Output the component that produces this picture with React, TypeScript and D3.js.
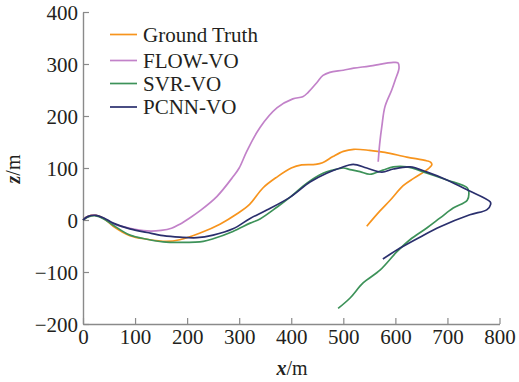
import React, { useRef, useEffect } from "react";
import { select, scaleLinear, line, axisLeft, axisBottom, curveCatmullRom } from "d3";

// trajectories, [x (m), z (m)]
const groundTruth: [number, number][] = [
  [0, 0], [10, 7], [25, 9], [40, 3], [58, -12], [90, -30], [123, -37], [160, -41],
  [186, -38], [225, -25], [263, -8], [296, 12], [320, 30], [346, 62], [373, 83],
  [400, 100], [420, 106], [446, 107], [460, 110], [480, 122], [500, 132], [520, 136],
  [550, 134], [580, 130], [622, 121], [660, 114], [668, 111], [670, 106], [665, 100],
  [657, 94], [635, 80], [615, 66], [590, 38], [570, 17], [545, -12],
];

const flowVO: [number, number][] = [
  [0, 0], [10, 7], [25, 9], [40, 3], [60, -8], [90, -16], [123, -21], [150, -20],
  [170, -16], [186, -8], [205, 4], [225, 18], [257, 45], [288, 83], [300, 100],
  [315, 133], [340, 178], [373, 216], [403, 233], [422, 237], [432, 245], [449, 264],
  [461, 278], [474, 284], [500, 288], [520, 292], [550, 296], [596, 303], [605, 302],
  [607, 292], [600, 270], [593, 250], [580, 218], [574, 180], [570, 148], [567, 112],
];

const svrVO: [number, number][] = [
  [0, 0], [10, 6], [25, 8], [40, 2], [58, -10], [90, -29], [123, -37], [154, -42],
  [190, -43], [231, -41], [250, -36], [288, -22], [321, -6], [340, 2], [373, 25],
  [398, 44], [430, 71], [461, 90], [480, 96], [500, 100], [513, 97], [532, 93],
  [551, 88], [576, 96], [596, 102], [622, 102], [661, 90], [699, 77], [738, 62],
  [741, 54], [738, 38], [711, 23], [686, 4], [661, -15], [628, -38], [603, -61],
  [571, -96], [538, -121], [513, -150], [490, -170],
];

const pcnnVO: [number, number][] = [
  [0, 0], [10, 7], [25, 9], [40, 4], [58, -6], [90, -17], [123, -24], [154, -30],
  [186, -33], [219, -34], [250, -29], [288, -17], [321, 3], [353, 19], [398, 44],
  [436, 73], [468, 90], [494, 100], [519, 107], [545, 100], [574, 92], [596, 98],
  [628, 102], [661, 92], [699, 77], [738, 58], [782, 35], [783, 30], [776, 20],
  [743, 10], [686, -13], [647, -33], [609, -54], [576, -75],
];

const seriesNames = ["Ground Truth", "FLOW-VO", "SVR-VO", "PCNN-VO"];
const seriesData = [groundTruth, flowVO, svrVO, pcnnVO];
const colors = ["#f7941d", "#c282c9", "#3d9259", "#2a2f6d"];

const xTicks = [0, 100, 200, 300, 400, 500, 600, 700, 800];
const zTicks = [-200, -100, 0, 100, 200, 300, 400];

const W = 519;
const H = 382;
const FONT = "Liberation Serif, DejaVu Serif, serif";

function TrajectoryChart() {
  const svgRef = useRef<SVGSVGElement>(null);

  useEffect(() => {
    const svg = select(svgRef.current);
    svg.selectAll("*").remove();

    const x = scaleLinear().domain([0, 800]).range([83, 499.5]);
    const y = scaleLinear().domain([-200, 400]).range([324, 12]);

    // axes, ticks pointing inward
    const gx = svg
      .append("g")
      .attr("transform", `translate(0,${y(-200)})`)
      .call(axisBottom(x).tickValues(xTicks).tickSizeInner(-6).tickSizeOuter(0).tickPadding(5));
    const gy = svg
      .append("g")
      .attr("transform", `translate(${x(0)},0)`)
      .call(axisLeft(y).tickValues(zTicks).tickSizeInner(-6).tickSizeOuter(0).tickPadding(5));

    [gx, gy].forEach((g) => {
      g.attr("font-family", FONT).attr("font-size", 21);
      g.select(".domain").attr("stroke", "#8a8a8a").attr("stroke-width", 1.4);
      g.selectAll(".tick line").attr("stroke", "#8a8a8a").attr("stroke-width", 1.2);
      g.selectAll(".tick text").attr("fill", "#231f20").attr("font-family", FONT);
    });
    gy.selectAll(".tick text").attr("dy", "0.34em");

    const path = line<[number, number]>()
      .x((d) => x(d[0]))
      .y((d) => y(d[1]))
      .curve(curveCatmullRom.alpha(0.5));

    svg
      .selectAll(".traj")
      .data(seriesData)
      .join("path")
      .attr("class", "traj")
      .attr("fill", "none")
      .attr("stroke", (d, i) => colors[i])
      .attr("stroke-width", 1.7)
      .attr("stroke-linejoin", "round")
      .attr("d", (d) => path(d));

    // legend
    const legend = svg
      .selectAll(".legend")
      .data(seriesNames)
      .join("g")
      .attr("class", "legend")
      .attr("transform", (d, i) => `translate(110,${[34.5, 60.5, 83.5, 107][i]})`);
    legend
      .append("line")
      .attr("x1", 0)
      .attr("x2", 27)
      .attr("stroke", (d, i) => colors[i])
      .attr("stroke-width", 1.7);
    legend
      .append("text")
      .attr("x", 33)
      .attr("dy", "0.35em")
      .attr("fill", "#231f20")
      .attr("font-family", FONT)
      .attr("font-size", 21)
      .text((d) => d);

    // axis titles
    const xt = svg
      .append("text")
      .attr("x", 292)
      .attr("y", 375)
      .attr("text-anchor", "middle")
      .attr("fill", "#231f20")
      .attr("font-family", FONT)
      .attr("font-size", 20);
    xt.append("tspan").attr("font-style", "italic").attr("font-weight", "bold").text("x");
    xt.append("tspan").text("/m");

    const zt = svg
      .append("text")
      .attr("transform", "translate(20,169) rotate(-90)")
      .attr("text-anchor", "middle")
      .attr("fill", "#231f20")
      .attr("font-family", FONT)
      .attr("font-size", 20);
    zt.append("tspan").attr("font-style", "italic").attr("font-weight", "bold").text("z");
    zt.append("tspan").text("/m");
  }, []);

  return <svg ref={svgRef} width={W} height={H} style={{ display: "block", background: "#fff" }} />;
}

export default function App() {
  return (
    <div style={{ position: "absolute", left: 0, top: 0 }}>
      <TrajectoryChart />
    </div>
  );
}
